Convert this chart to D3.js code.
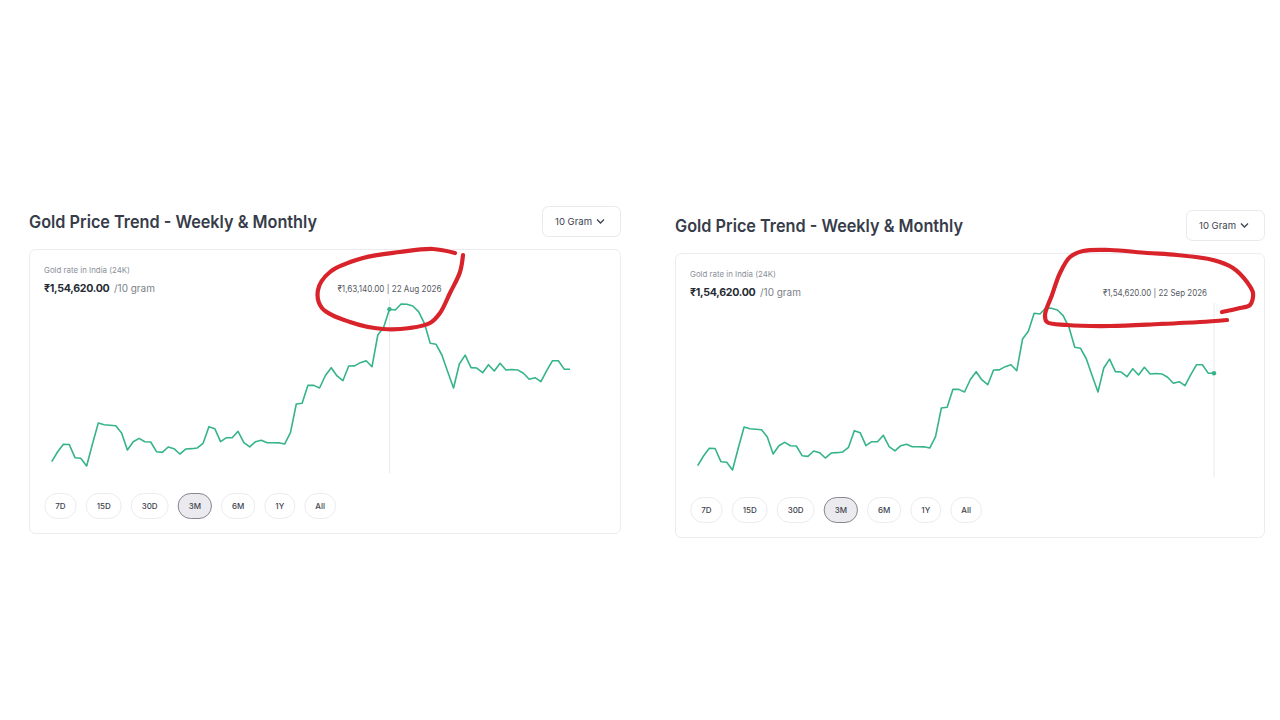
<!DOCTYPE html>
<html><head><meta charset="utf-8">
<script src="https://cdn.jsdelivr.net/npm/d3@7"></script>
<style>html,body{margin:0;background:#fff;}svg{display:block;font-family:Inter,"Noto Sans",sans-serif;}</style>
</head><body><svg id="c" width="1280" height="720"></svg>
<script>
// ---- data ----
const startDate = "2026-06-25";
const prices = [
 141500,142880,143970,143950,142070,141980,140890,144010,147000,146750,
 146680,146610,145580,143160,144340,144820,144330,144300,142920,142830,
 143590,143350,142590,143300,143350,143450,144110,146470,146190,144350,
 144910,144900,145820,144200,143600,144340,144540,144200,144190,144180,
 144010,145620,149690,149790,152350,152340,151960,153740,154850,153670,
 153000,155090,155100,155560,155840,154990,159490,160580,163140,163040,
 163890,163850,163610,162800,161150,158310,158170,156650,154280,151960,
 155370,156640,154850,154800,154140,155270,154380,155470,154520,154600,
 154530,154050,153200,153430,152860,154420,155840,155830,154640,154620
];
const rangeLabels = ["7D","15D","30D","3M","6M","1Y","All"];
const selectedRange = "3M";
const chartTitle = "Gold Price Trend - Weekly & Monthly";
const unitLabel = "10 Gram";
const rateLabel = "Gold rate in India (24K)";
const currentPrice = 154620;
const perUnit = "/10 gram";
const hoverIndices = [58, 89];
// hand-drawn red circles (offsets from card corner)
const annotLeft = [[426,4],[404,0],[371,3],[334,9],[301,23],[289,41],[293,59],[321,73],[354,80],[381,79],[401,74],[411,64],[421,44],[431,23],[434,6]];
const annotRight = [[547,59],[565,55],[575,52],[578,40],[572,29],[558,15],[538,7],[502,2],[472,0],[435,-3],[408,-2],[395,4],[385,20],[377,42],[370,62],[372,69],[392,72],[435,73],[485,71],[525,69],[552,67]];

// ---- drawing ----
const svg = d3.select("#c");
const inr = d3.formatLocale({decimal:".",thousands:",",grouping:[3,2,2,2,2,2],currency:["₹",""]}).format("$,.2f");
const fmtDate = d3.timeFormat("%d %b %Y");
const t0 = d3.timeParse("%Y-%m-%d")(startDate);
const dates = prices.map((_, i) => d3.timeDay.offset(t0, i));
const LINE = "#35b48a";

function fitText(sel, w){ sel.attr("textLength", w).attr("lengthAdjust","spacingAndGlyphs"); return sel; }
function fitSize(sel, w){
  const fs = +sel.attr("font-size");
  const nat = sel.node().getComputedTextLength();
  if (nat > w) sel.attr("font-size", (fs * w / nat).toFixed(2));
  return sel;
}

function drawPanel(cfg){
  const {x:cx, y:cy, w:cw, h:ch, hover, annot} = cfg;
  const g = svg.append("g");
  fitText(g.append("text").attr("x",cx).attr("y",cy-21).text(chartTitle)
    .attr("font-size",17.5).attr("font-weight",600).attr("fill","#363c49"), 288);
  // dropdown
  g.append("rect").attr("x",cx+cw-79+0.5).attr("y",cy-43+0.5).attr("width",78).attr("height",30)
    .attr("rx",6).attr("fill","#fff").attr("stroke","#e8e8ed");
  fitText(g.append("text").attr("x",cx+cw-66).attr("y",cy-24.5).text(unitLabel)
    .attr("font-size",9.5).attr("fill","#3d4350"), 37);
  g.append("path").attr("d",`M${cx+cw-24},${cy-29.5}L${cx+cw-20.5},${cy-26}L${cx+cw-17},${cy-29.5}`)
    .attr("fill","none").attr("stroke","#3d4350").attr("stroke-width",1.3);
  // card
  g.append("rect").attr("x",cx+0.5).attr("y",cy+0.5).attr("width",cw-1).attr("height",ch-1)
    .attr("rx",6).attr("fill","#fff").attr("stroke","#ececf0");
  fitText(g.append("text").attr("x",cx+15).attr("y",cy+24).text(rateLabel)
    .attr("font-size",8).attr("fill","#8b9099"), 86);
  fitSize(g.append("text").attr("x",cx+15).attr("y",cy+43).text(inr(currentPrice))
    .attr("font-size",12.5).attr("font-weight",700).attr("fill","#262b34").attr("letter-spacing",-0.3), 66);
  fitSize(g.append("text").attr("x",cx+85).attr("y",cy+43).text(perUnit)
    .attr("font-size",10).attr("fill","#7a7f88"), 41);

  const x = d3.scaleLinear().domain([0, prices.length-1]).range([cx+22.7, cx+cw-51]);
  const y = d3.scaleLinear().domain(d3.extent(prices)).range([cy+217, cy+55]);
  const hx = x(hover);
  g.append("line").attr("x1",hx).attr("x2",hx).attr("y1",cy+50).attr("y2",cy+224)
    .attr("stroke","#e9e9ec").attr("stroke-width",1);
  g.append("path").datum(prices)
    .attr("d", d3.line().x((d,i)=>x(i)).y(d=>y(d)))
    .attr("fill","none").attr("stroke",LINE).attr("stroke-width",1.6).attr("stroke-linejoin","round");
  g.append("circle").attr("cx",hx).attr("cy",y(prices[hover])).attr("r",2.2).attr("fill",LINE);
  // tooltip text
  const tw = 104;
  let tx = hx;
  const maxRight = x.range()[1] - 7;
  if (tx + tw/2 > maxRight) tx = maxRight - tw/2;
  fitText(g.append("text").attr("x",tx).attr("y",cy+43).attr("text-anchor","middle")
    .text(`${inr(prices[hover])} | ${fmtDate(dates[hover])}`)
    .attr("font-size",8.5).attr("fill","#555a63"), tw);

  // range buttons
  let bx = cx+15.3;
  rangeLabels.forEach(lbl => {
    const sel = lbl === selectedRange;
    const tmp = g.append("text").attr("font-size",8).attr("font-weight",500).text(lbl);
    const w = Math.max(31, tmp.node().getComputedTextLength() + 22);
    tmp.remove();
    g.append("rect").attr("x",bx+0.5).attr("y",cy+244.5).attr("width",w-1).attr("height",25)
      .attr("rx",12.5).attr("fill", sel ? "#ebebef" : "#fff").attr("stroke", sel ? "#85878d" : "#ececf0");
    g.append("text").attr("x",bx+w/2).attr("y",cy+260).attr("text-anchor","middle")
      .attr("font-size",8).attr("font-weight",500).attr("fill","#3d4350").text(lbl);
    bx += w + 9;
  });

  // red annotation
  g.append("path").datum(annot)
    .attr("d", d3.line().x(d=>cx+d[0]).y(d=>cy+d[1]).curve(d3.curveCatmullRom))
    .attr("fill","none").attr("stroke","#d9232b").attr("stroke-width",4.2)
    .attr("stroke-linecap","round").attr("stroke-linejoin","round");
}

drawPanel({x:29, y:249, w:592, h:285, hover:hoverIndices[0], annot:annotLeft});
drawPanel({x:675, y:253, w:590, h:285, hover:hoverIndices[1], annot:annotRight});
</script></body></html>
